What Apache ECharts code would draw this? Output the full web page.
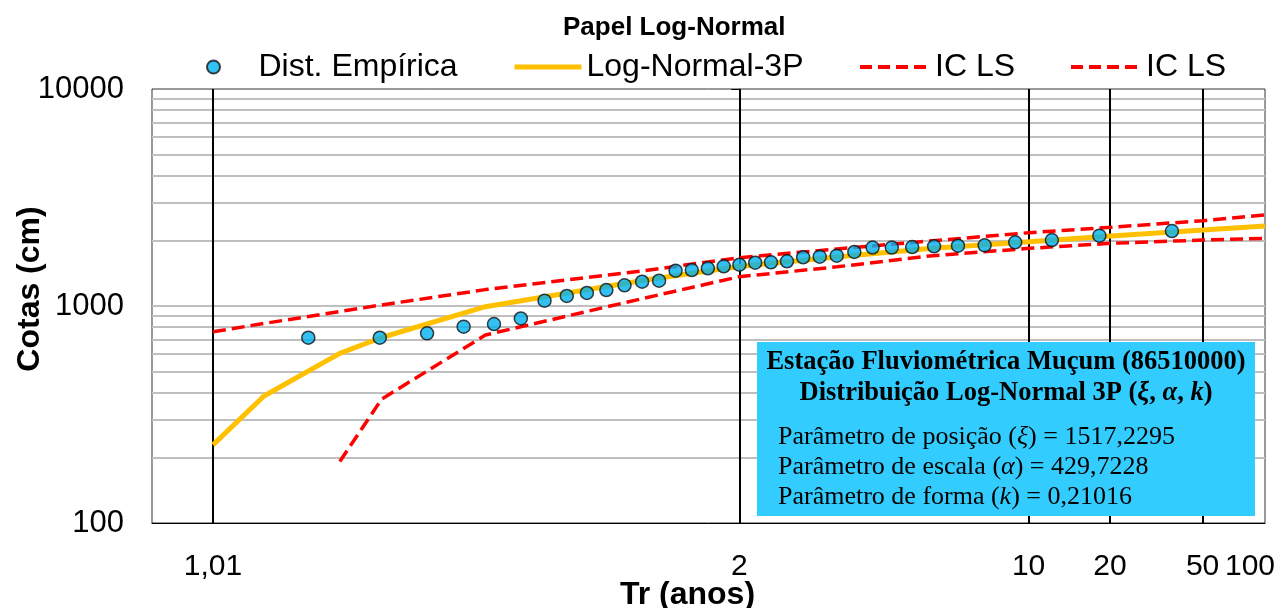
<!DOCTYPE html>
<html>
<head>
<meta charset="utf-8">
<script src="https://cdn.jsdelivr.net/npm/echarts@6/dist/echarts.min.js"></script>
<style>
  html, body { margin: 0; padding: 0; background: #fff; }
  #main { width: 1279px; height: 608px; }
</style>
</head>
<body>
<div id="main"></div>
<script>
// tick marks on the probability (Tr) axis
var trTicks = [1.01, 2, 10, 20, 50, 100];
var trLabels = ['1,01', '2', '10', '20', '50', '100'];
// minor / major horizontal grid values (cm)
var cotaGrid = [200, 300, 400, 500, 600, 700, 800, 900, 1000,
  2000, 3000, 4000, 5000, 6000, 7000, 8000, 9000];

// empirical distribution (Weibull plotting positions)
var empTr = [1.029, 1.059, 1.091, 1.125, 1.161, 1.2, 1.241, 1.286, 1.333, 1.385,
  1.44, 1.5, 1.565, 1.636, 1.714, 1.8, 1.895, 2, 2.118, 2.25,
  2.4, 2.571, 2.769, 3, 3.273, 3.6, 4, 4.5, 5.143, 6,
  7.2, 9, 12, 18, 36];
var empCota = [714, 714, 748, 803, 826, 876, 1058, 1112, 1148, 1185,
  1246, 1294, 1308, 1454, 1465, 1492, 1524, 1550, 1583, 1590,
  1607, 1677, 1688, 1706, 1774, 1860, 1860, 1870, 1884, 1896,
  1904, 1966, 2014, 2109, 2216];

// fitted curve and confidence limits
var curveTr = [1.01, 1.018, 1.04, 1.06, 1.15, 1.5, 2, 3, 5, 10, 20, 50, 100];
var logNormal3p = [229, 385, 605, 716, 993, 1310, 1520, 1682, 1841, 1978, 2102, 2239, 2337];
var icSup = [761, 831, 943, 1011, 1190, 1450, 1670, 1831, 1993, 2177, 2305, 2473, 2627];
var icInf = [null, null, 192, 372, 735, 1081, 1365, 1515, 1700, 1844, 1945, 2014, 2051];

// inverse standard normal (Acklam) -> probability paper abscissa
function normInv(p) {
  var a = [-3.969683028665376e+01, 2.209460984245205e+02, -2.759285104469687e+02, 1.383577518672690e+02, -3.066479806614716e+01, 2.506628277459239e+00];
  var b = [-5.447609879822406e+01, 1.615858368580409e+02, -1.556989798598866e+02, 6.680131188771972e+01, -1.328068155288572e+01];
  var c = [-7.784894002430293e-03, -3.223964580411365e-01, -2.400758277161838e+00, -2.549732539343734e+00, 4.374664141464968e+00, 2.938163982698783e+00];
  var d = [7.784695709041462e-03, 3.224671290700398e-01, 2.445134137142996e+00, 3.754408661907416e+00];
  var pl = 0.02425, q, r;
  if (p < pl) {
    q = Math.sqrt(-2 * Math.log(p));
    return (((((c[0] * q + c[1]) * q + c[2]) * q + c[3]) * q + c[4]) * q + c[5]) / ((((d[0] * q + d[1]) * q + d[2]) * q + d[3]) * q + 1);
  }
  if (p > 1 - pl) {
    q = Math.sqrt(-2 * Math.log(1 - p));
    return -(((((c[0] * q + c[1]) * q + c[2]) * q + c[3]) * q + c[4]) * q + c[5]) / ((((d[0] * q + d[1]) * q + d[2]) * q + d[3]) * q + 1);
  }
  q = p - 0.5; r = q * q;
  return (((((a[0] * r + a[1]) * r + a[2]) * r + a[3]) * r + a[4]) * r + a[5]) * q / (((((b[0] * r + b[1]) * r + b[2]) * r + b[3]) * r + b[4]) * r + 1);
}
function zOf(tr) { return normInv(1 - 1 / tr); }

function pairs(trs, vals) {
  var out = [];
  for (var i = 0; i < trs.length; i++) {
    if (vals[i] != null) out.push([zOf(trs[i]), vals[i]]);
  }
  return out;
}

var sans = 'Liberation Sans, Arial, sans-serif';
var serif = 'Liberation Serif, Times New Roman, serif';

var chartDom = document.getElementById('main');
var myChart = echarts.init(chartDom);
var option;

var legendText = { fontSize: 32, color: '#000', fontFamily: sans };
var noDot = { opacity: 0 };
var xMax = zOf(100);

option = {
  animation: false,
  title: {
    text: 'Papel Log-Normal',
    left: 558, top: 10,
    textStyle: { fontSize: 26, fontWeight: 'bold', color: '#000', fontFamily: sans }
  },
  legend: [
    { data: ['Dist. Empírica'], left: 201, top: 46, itemWidth: 80, itemHeight: 13, textStyle: legendText },
    { data: ['Log-Normal-3P'], left: 507, top: 46, itemWidth: 67, itemHeight: 14, textStyle: legendText,
      itemStyle: noDot, lineStyle: { width: 5, color: '#FFC000' } },
    { data: ['IC LS sup'], left: 853, top: 46, itemWidth: 70, itemHeight: 14, textStyle: legendText,
      itemStyle: noDot, lineStyle: { width: 4, color: '#FF0000', type: [12, 6] },
      formatter: function () { return 'IC LS'; } },
    { data: ['IC LS inf'], left: 1064, top: 46, itemWidth: 70, itemHeight: 14, textStyle: legendText,
      itemStyle: noDot, lineStyle: { width: 4, color: '#FF0000', type: [12, 6] },
      formatter: function () { return 'IC LS'; } }
  ],
  grid: {
    left: 152, right: 14, top: 89, bottom: 85,
    containLabel: false, outerBoundsMode: 'none',
    show: true, borderColor: '#333', borderWidth: 1
  },
  xAxis: {
    type: 'value',
    min: -2.6,
    max: xMax,
    axisLabel: { show: false },
    axisTick: { show: false },
    splitLine: { show: false },
    axisLine: { lineStyle: { color: '#000', width: 1 } },
    name: 'Tr (anos)',
    nameLocation: 'middle',
    nameGap: 56,
    nameMoveOverlap: false,
    nameTextStyle: { fontSize: 32, fontWeight: 'bold', color: '#000', fontFamily: sans, padding: [0, 42, 0, 0] }
  },
  yAxis: {
    type: 'log',
    logBase: 10,
    min: 100,
    max: 10000,
    axisLine: { show: true, lineStyle: { color: '#000', width: 1 } },
    axisTick: { show: true, length: 8, lineStyle: { color: '#000' } },
    splitLine: { show: false },
    axisLabel: {
      fontSize: 31, color: '#000', fontFamily: sans, margin: 28,
      formatter: function (v) { return String(Math.round(v)); }
    },
    name: 'Cotas (cm)',
    nameLocation: 'middle',
    nameGap: 106,
    nameMoveOverlap: false,
    nameTextStyle: { fontSize: 32, fontWeight: 'bold', color: '#000', fontFamily: sans, padding: [0, 0, 0, 34] }
  },
  series: [
    {
      name: 'Log-Normal-3P',
      type: 'line',
      z: 5,
      symbol: 'none',
      data: pairs(curveTr, logNormal3p),
      lineStyle: { color: '#FFC000', width: 5 },
      itemStyle: { color: '#FFC000' },
      markLine: {
        silent: true, z: 1, symbol: ['none', 'none'],
        label: { show: false },
        lineStyle: { color: '#BFBFBF', width: 2, type: 'solid' },
        data: cotaGrid.map(function (v) { return { yAxis: v }; })
      }
    },
    {
      name: 'IC LS sup',
      type: 'line',
      z: 6,
      symbol: 'none',
      data: pairs(curveTr, icSup),
      lineStyle: { color: '#FF0000', width: 3.5, type: [13, 6] },
      itemStyle: { color: '#FF0000' }
    },
    {
      name: 'IC LS inf',
      type: 'line',
      z: 6,
      symbol: 'none',
      data: pairs(curveTr, icInf),
      lineStyle: { color: '#FF0000', width: 3.5, type: [13, 6] },
      itemStyle: { color: '#FF0000' },
      markLine: {
        silent: true, z: 2, symbol: ['none', 'none'],
        lineStyle: { color: '#000', width: 2, type: 'solid' },
        label: {
          show: true, position: 'start', distance: 29,
          fontSize: 30, color: '#000', fontFamily: sans
        },
        data: trTicks.slice(0, -1).map(function (t, i) {
          return { xAxis: zOf(t), label: { formatter: trLabels[i] } };
        })
      }
    },
    {
      name: 'Dist. Empírica',
      type: 'scatter',
      z: 10,
      symbol: 'circle',
      symbolSize: 13,
      data: pairs(empTr, empCota),
      itemStyle: { color: '#00B0F0', borderColor: '#111', borderWidth: 1.5 }
    }
  ],
  graphic: [
    { id: 'box', type: 'rect', zlevel: 1, z: 100, shape: { x: 757, y: 342, width: 498, height: 174 }, style: { fill: '#33CCFF' } },
    { id: 't1', type: 'text', zlevel: 1, z: 101, style: { x: 1006, y: 362, text: 'Estação Fluviométrica Muçum (86510000)', textAlign: 'center', textVerticalAlign: 'middle', font: 'bold 26.5px ' + serif, fill: '#000' } },
    { id: 't2', type: 'text', zlevel: 1, z: 101, style: { x: 1006, y: 393, text: 'Distribuição Log-Normal 3P ({bi|ξ}, {bi|α}, {bi|k})', textAlign: 'center', textVerticalAlign: 'middle', font: 'bold 26.5px ' + serif, fill: '#000',
      rich: { bi: { fontStyle: 'italic', fontWeight: 'bold', fontSize: 26.5, fontFamily: serif } } } },
    { id: 't3', type: 'text', zlevel: 1, z: 101, style: { x: 778, y: 437, text: 'Parâmetro de posição ({i|ξ}) = 1517,2295', textAlign: 'left', textVerticalAlign: 'middle', font: '26px ' + serif, fill: '#000',
      rich: { i: { fontStyle: 'italic', fontSize: 26, fontFamily: serif } } } },
    { id: 't4', type: 'text', zlevel: 1, z: 101, style: { x: 778, y: 467, text: 'Parâmetro de escala ({i|α}) = 429,7228', textAlign: 'left', textVerticalAlign: 'middle', font: '26px ' + serif, fill: '#000',
      rich: { i: { fontStyle: 'italic', fontSize: 26, fontFamily: serif } } } },
    { id: 't5', type: 'text', zlevel: 1, z: 101, style: { x: 778, y: 497, text: 'Parâmetro de forma ({i|k}) = 0,21016', textAlign: 'left', textVerticalAlign: 'middle', font: '26px ' + serif, fill: '#000',
      rich: { i: { fontStyle: 'italic', fontSize: 26, fontFamily: serif } } } }
  ]
};

option && myChart.setOption(option);

// last Tr label sits on the right edge of the plot; place it from the axis scale
var lastIdx = trTicks.length - 1;
var p100 = myChart.convertToPixel({ xAxisIndex: 0, yAxisIndex: 0 }, [zOf(trTicks[lastIdx]), 100]);
myChart.setOption({
  graphic: [
    { id: 'tr100', type: 'text', style: { x: p100[0] - 15, y: p100[1] + 44, text: trLabels[lastIdx], textAlign: 'center', textVerticalAlign: 'middle', font: '30px ' + sans, fill: '#000' } }
  ]
});
</script>
</body>
</html>
